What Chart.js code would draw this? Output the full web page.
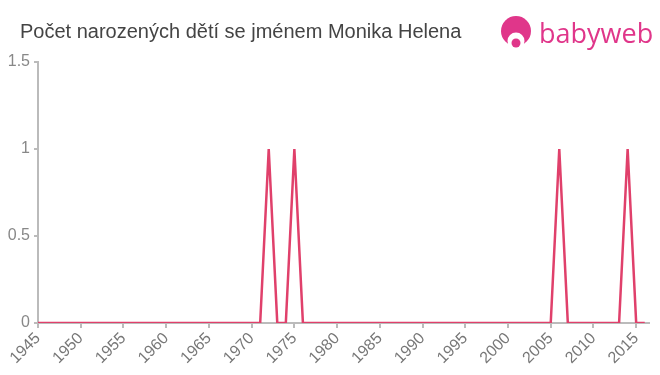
<!DOCTYPE html>
<html>
<head>
<meta charset="utf-8">
<script src="https://cdn.jsdelivr.net/npm/chart.js@4/dist/chart.umd.min.js"></script>
<style>
  body { margin: 0; background: #fff; }
  #wrap { width: 660px; height: 375px; position: relative; }
</style>
</head>
<body>
<div id="wrap"><canvas id="myChart"></canvas></div>
<script>
// data
var years = [];
for (var y = 1945; y <= 2016; y++) years.push(y);
var births = [
  0,0,0,0,0, 0,0,0,0,0,   // 1945-1954
  0,0,0,0,0, 0,0,0,0,0,   // 1955-1964
  0,0,0,0,0, 0,0,1,0,0,   // 1965-1974
  1,0,0,0,0, 0,0,0,0,0,   // 1975-1984
  0,0,0,0,0, 0,0,0,0,0,   // 1985-1994
  0,0,0,0,0, 0,0,0,0,0,   // 1995-2004
  0,1,0,0,0, 0,0,0,0,1,   // 2005-2014
  0,0                     // 2015-2016
];
var yTicks = [0, 0.5, 1, 1.5];
var chartTitle = 'Počet narozených dětí se jménem Monika Helena';

var points = years.map(function (yr, i) { return { x: yr, y: births[i] }; });

// title + babyweb logo
var decorPlugin = {
  id: 'decor',
  afterDraw: function (chart) {
    var ctx = chart.ctx;
    ctx.save();
    ctx.fillStyle = '#444';
    ctx.font = '20px "Liberation Sans", Arial, sans-serif';
    ctx.textBaseline = 'alphabetic';
    ctx.textAlign = 'left';
    ctx.fillText(chartTitle, 20, 38);

    var pink = '#e0368a';
    ctx.fillStyle = pink;
    ctx.beginPath();
    ctx.arc(516, 31, 15, 0, Math.PI * 2);
    ctx.fill();
    ctx.fillStyle = '#fff';
    ctx.beginPath();
    ctx.arc(516, 41, 8.5, 0, Math.PI * 2);
    ctx.fill();
    ctx.fillStyle = pink;
    ctx.beginPath();
    ctx.arc(516, 43, 4.5, 0, Math.PI * 2);
    ctx.fill();

    ctx.font = '27px "Open Sans", sans-serif';
    ctx.fillText('babyweb', 539, 43);
    ctx.restore();
  }
};

var axisGray = '#bbbbbb';
var ctxChart = document.getElementById('myChart').getContext('2d');
var myChart = new Chart(ctxChart, {
  type: 'line',
  data: {
    datasets: [{
      data: points,
      borderColor: '#e0406b',
      borderWidth: 2.5,
      pointRadius: 0,
      tension: 0,
      fill: false
    }]
  },
  options: {
    responsive: true,
    maintainAspectRatio: false,
    animation: false,
    layout: { padding: { top: 62, right: 11, left: 0, bottom: 0 } },
    plugins: { legend: { display: false }, tooltip: { enabled: false } },
    scales: {
      x: {
        type: 'linear',
        min: 1945,
        max: 2016.5,
        afterFit: function (scale) { scale.height = 52; },
        border: { color: axisGray, width: 2 },
        grid: { drawOnChartArea: false, color: axisGray, lineWidth: 2, tickLength: 5 },
        ticks: {
          stepSize: 5,
          includeBounds: false,
          minRotation: 45,
          maxRotation: 45,
          color: '#777',
          font: { size: 16, family: '"Liberation Sans", Arial, sans-serif' },
          padding: 1,
          callback: function (v) { return String(v); }
        }
      },
      y: {
        min: 0,
        max: 1.5,
        afterFit: function (scale) { scale.width = 38; },
        afterBuildTicks: function (scale) {
          scale.ticks = yTicks.map(function (v) { return { value: v }; });
        },
        border: { color: axisGray, width: 2 },
        grid: { drawOnChartArea: false, color: axisGray, lineWidth: 2, tickLength: 4 },
        ticks: {
          color: '#888',
          font: { size: 16, family: '"Liberation Sans", Arial, sans-serif' },
          padding: 4,
          callback: function (v) { return String(v); }
        }
      }
    }
  },
  plugins: [decorPlugin]
});
</script>
</body>
</html>
